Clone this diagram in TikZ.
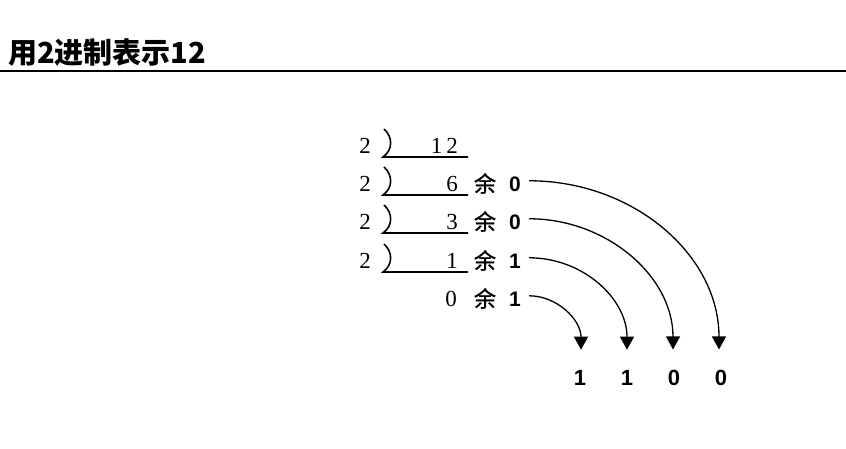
\documentclass[tikz,border=0pt]{standalone}
\usepackage{fontspec}
\setmainfont{Liberation Serif}
\newfontfamily\cjk{Noto Sans CJK SC}
\newfontfamily\cjkm{Noto Sans CJK SC}[FakeBold=1.2]
\newfontfamily\sansd{Liberation Sans}[BoldFont={Liberation Sans Bold}]
\usetikzlibrary{arrows.meta}
\tikzset{
  ttl/.style={font=\cjk\bfseries\fontsize{29}{29}\selectfont, inner sep=0pt, anchor=base west},
  ser/.style={font=\rmfamily\fontsize{23}{23}\selectfont, inner sep=0pt},
  yu/.style={font=\cjkm\fontsize{22}{22}\selectfont, inner sep=0pt, anchor=base},
  rem/.style={font=\sansd\bfseries\fontsize{21}{21}\selectfont, inner sep=0pt, anchor=base},
  bit/.style={font=\sansd\bfseries\fontsize{22}{22}\selectfont, inner sep=0pt, anchor=base},
  bar/.style={line width=1.6pt},
  conn/.style={line width=1.3pt, -{Triangle[width=14pt,length=13pt]}}
}
\begin{document}
\begin{tikzpicture}[x=1pt,y=-1pt]
\useasboundingbox (0,0) rectangle (846,448);
\node[ttl] (title) at (8,63) {用2进制表示12};
\draw[line width=2pt] (0,71) -- (846,71);
% division rows
\foreach \i/\y in {1/153,2/191,3/229,4/268}{
  \node[ser, anchor=base] (d\i) at (365,\y) {2};
  \draw[bar] (384,{\y-24}) .. controls (393,{\y-16}) and (393,{\y-3}) .. (383,{\y+4}) -- (468,{\y+4});
}
\node[ser, anchor=base east] (q0) at (458,153) {1\,2};
\node[ser, anchor=base east] (q1) at (458,191) {6};
\node[ser, anchor=base east] (q2) at (458,229) {3};
\node[ser, anchor=base east] (q3) at (458,268) {1};
\node[ser, anchor=base east] (q4) at (457,306) {0};
\foreach \i/\y/\r in {1/191/0,2/229/0,3/268/1,4/306/1}{
  \node[yu] (y\i) at (485,{\y+1}) {余};
  \node[rem] (r\i) at (515,\y) {\r};
}
% result bits
\node[bit] (b1) at (580,385) {1};
\node[bit] (b2) at (627,385) {1};
\node[bit] (b3) at (674,385) {0};
\node[bit] (b4) at (721,385) {0};
% connectors
\draw[conn] ([xshift=8pt,yshift=3pt]r1.east) .. controls +(105,0) and +(0,-94) .. ([xshift=-2pt,yshift=20pt]b4.north);
\draw[conn] ([xshift=8pt,yshift=3pt]r2.east) .. controls +(78,0) and +(0,-73) .. ([xshift=-1pt,yshift=20pt]b3.north);
\draw[conn] ([xshift=8pt,yshift=3pt]r3.east) .. controls +(54,0) and +(0,-51) .. ([yshift=20pt]b2.north);
\draw[conn] ([xshift=8pt,yshift=3pt]r4.east) .. controls +(28,0) and +(0,-30) .. ([xshift=1pt,yshift=20pt]b1.north);
\end{tikzpicture}
\end{document}
